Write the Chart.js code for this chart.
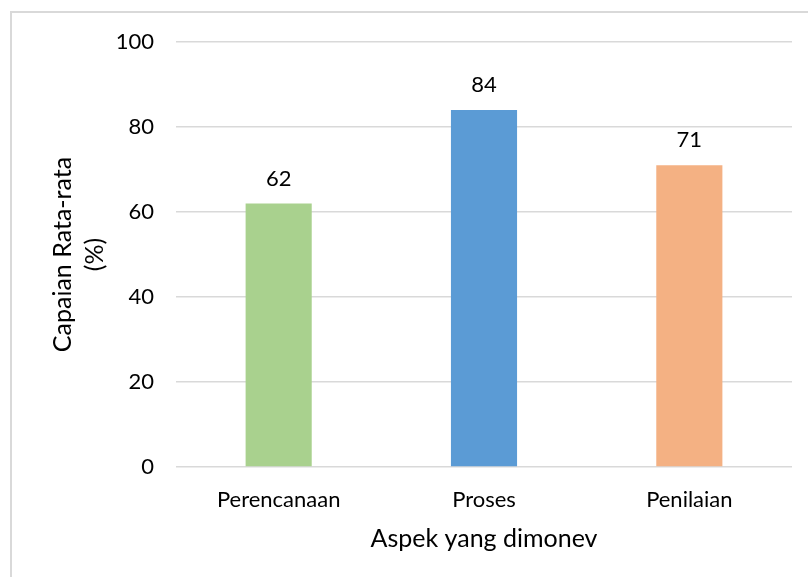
<!DOCTYPE html>
<html>
<head>
<meta charset="utf-8">
<script src="https://cdn.jsdelivr.net/npm/chart.js@4.4.1/dist/chart.umd.min.js"></script>
<style>
  html, body { margin: 0; padding: 0; background: #fff; overflow: hidden; }
  #wrap { position: relative; width: 808px; height: 577px; }
  #frame { position: absolute; left: 10px; top: 11px; width: 900px; height: 700px; border: 2px solid #d9d9d9; box-sizing: border-box; }
  canvas { position: absolute; left: 0; top: 0; }
</style>
</head>
<body>
<div id="wrap">
  <div id="frame"></div>
  <canvas id="c" width="808" height="577"></canvas>
</div>
<script>
const categories = ["Perencanaan", "Proses", "Penilaian"];
const values = [62, 84, 71];
const barColors = ["#a9d18e", "#5b9bd5", "#f4b183"];
const yTicks = [0, 20, 40, 60, 80, 100];
const yTitle = ["Capaian Rata-rata", "(%)"];
const xTitle = "Aspek yang dimonev";

const FONT = "Lato";

const valueLabels = {
  id: 'valueLabels',
  afterDatasetsDraw(chart) {
    const ctx = chart.ctx;
    const meta = chart.getDatasetMeta(0);
    ctx.save();
    ctx.font = "22px " + FONT;
    ctx.fillStyle = "#000";
    ctx.textAlign = "center";
    ctx.textBaseline = "middle";
    meta.data.forEach((bar, i) => {
      ctx.fillText(String(chart.data.datasets[0].data[i]), bar.x, bar.y - 25);
    });
    ctx.restore();
  }
};

new Chart(document.getElementById('c'), {
  type: 'bar',
  data: {
    labels: categories,
    datasets: [{
      data: values,
      backgroundColor: barColors,
      borderWidth: 0,
      categoryPercentage: 1,
      barPercentage: 0.322
    }]
  },
  options: {
    responsive: false,
    animation: false,
    devicePixelRatio: 1,
    layout: { padding: { left: 11, top: 42, right: 16, bottom: 0 } },
    plugins: { legend: { display: false }, tooltip: { enabled: false } },
    scales: {
      x: {
        grid: { display: false },
        border: { display: false },
        ticks: { color: "#000", font: { family: FONT, size: 22 }, padding: 12, maxRotation: 0 },
        title: { display: true, text: xTitle, color: "#000", font: { family: FONT, size: 25 }, padding: { top: 0, bottom: 23 } },
        afterFit(scale) { scale.height = 110; }
      },
      y: {
        min: 0, max: 100,
        afterBuildTicks(scale) { scale.ticks = yTicks.map(v => ({ value: v })); },
        grid: { color: "#d9d9d9", lineWidth: 1.5, drawTicks: false },
        border: { display: false },
        ticks: { color: "#000", font: { family: FONT, size: 22 }, padding: 22 },
        title: { display: true, text: yTitle, color: "#000", font: { family: FONT, size: 25, lineHeight: "32px" }, padding: { top: 36, bottom: 0 } },
        afterFit(scale) { scale.width = 165; }
      }
    }
  },
  plugins: [valueLabels]
});
</script>
</body>
</html>
